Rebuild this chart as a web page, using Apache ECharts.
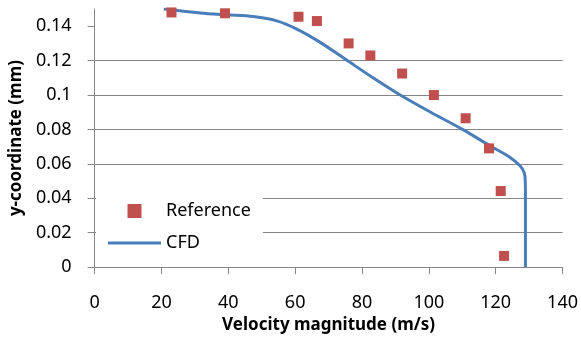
<!DOCTYPE html>
<html>
<head>
<meta charset="utf-8">
<script src="https://cdn.jsdelivr.net/npm/echarts@6/dist/echarts.min.js"></script>
<style>
  html, body { margin: 0; padding: 0; background: #fff; }
  #chart { width: 581px; height: 339px; }
</style>
</head>
<body>
<div id="chart"></div>
<script>
// Measured reference profile (velocity in m/s, y in mm)
const refVelocity = [23, 39, 61, 66.5, 76, 82.5, 92, 101.5, 111, 118, 121.5, 122.5];
const refY = [0.148, 0.1475, 0.1455, 0.143, 0.130, 0.123, 0.1125, 0.100, 0.0865, 0.069, 0.0442, 0.0065];

// CFD velocity profile
const cfdVelocity = [20.7, 31.6, 39.6, 47.5, 54.5, 60.5, 67.5, 75.4, 83.4, 91.3, 100.3, 110.2, 118.2, 124.2, 127.2, 128.5, 128.85, 128.9, 128.9];
const cfdY = [0.150, 0.1477, 0.1466, 0.1456, 0.1431, 0.1383, 0.1306, 0.1203, 0.1099, 0.1002, 0.0903, 0.0799, 0.0706, 0.0639, 0.059, 0.055, 0.050, 0.040, 0.0];

// Axis ticks
const xTicks = [0, 20, 40, 60, 80, 100, 120, 140];
const yTicks = [0, 0.02, 0.04, 0.06, 0.08, 0.1, 0.12, 0.14];

const FONT = '"Noto Sans", sans-serif';
const GRID_COLOR = '#868686';
const LINE_COLOR = '#4A7EBB';
const MARK_COLOR = '#C0504D';

const refData = refVelocity.map((v, i) => [v, refY[i]]);
const cfdData = cfdVelocity.map((v, i) => [v, cfdY[i]]);

const chart = echarts.init(document.getElementById('chart'), null, { renderer: 'canvas' });
chart.setOption({
  animation: false,
  backgroundColor: '#fff',
  grid: { left: 94, right: 18, top: 9, bottom: 70.5, containLabel: false },
  xAxis: {
    type: 'value',
    min: 0, max: 140, interval: 20,
    name: 'Velocity magnitude (m/s)',
    nameLocation: 'middle',
    nameGap: 46,
    nameTextStyle: { fontFamily: FONT, fontSize: 17, fontWeight: 'bold', color: '#000' },
    axisLine: { show: true, onZero: false, lineStyle: { color: GRID_COLOR, width: 1 } },
    axisTick: { show: true, inside: false, length: 7, lineStyle: { color: GRID_COLOR } },
    axisLabel: {
      margin: 27, fontFamily: FONT, fontSize: 18, color: '#000',
      customValues: xTicks
    },
    splitLine: { show: false }
  },
  yAxis: {
    type: 'value',
    min: 0, max: 0.15, interval: 0.02,
    name: 'y-coordinate (mm)',
    nameLocation: 'middle',
    nameGap: 66,
    nameRotate: 90,
    nameTextStyle: { fontFamily: FONT, fontSize: 17, fontWeight: 'bold', color: '#000' },
    axisLine: { show: true, lineStyle: { color: GRID_COLOR, width: 1 } },
    axisTick: { show: true, inside: false, length: 7, lineStyle: { color: GRID_COLOR }, customValues: yTicks },
    axisLabel: {
      margin: 23, fontFamily: FONT, fontSize: 18, color: '#000',
      customValues: yTicks,
      formatter: v => String(+v.toFixed(2))
    },
    splitLine: { show: true, showMaxLine: false, lineStyle: { color: GRID_COLOR, width: 1 } }
  },
  legend: {
    orient: 'vertical',
    left: 96, top: 190,
    padding: [12, 12, 12, 12],
    itemWidth: 53, itemHeight: 14, itemGap: 14,
    backgroundColor: '#fff',
    textStyle: { fontFamily: FONT, fontSize: 18, color: '#000', padding: [0, 0, 0, 0] },
    data: [
      { name: 'Reference', icon: 'path://M0,0h10v10h-10z', itemStyle: { color: MARK_COLOR, opacity: 1 } },
      { name: 'CFD', icon: 'path://M0,0h53v3h-53z', itemStyle: { color: LINE_COLOR } }
    ]
  },
  series: [
    {
      name: 'CFD',
      type: 'line',
      data: cfdData,
      smooth: 0.3,
      showSymbol: false,
      symbol: 'none',
      lineStyle: { color: LINE_COLOR, width: 3 },
      itemStyle: { color: LINE_COLOR },
      z: 2
    },
    {
      name: 'Reference',
      type: 'scatter',
      data: refData,
      symbol: 'rect',
      symbolSize: 10,
      itemStyle: { color: MARK_COLOR, opacity: 1 },
      z: 3
    }
  ]
});
</script>
</body>
</html>
